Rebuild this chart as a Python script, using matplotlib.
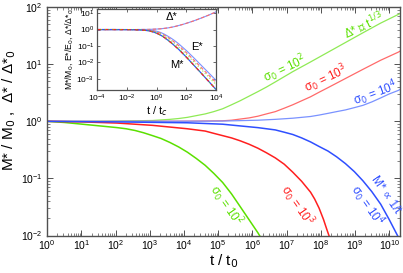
import numpy as np
import matplotlib
matplotlib.use("Agg")
import matplotlib.pyplot as plt
from matplotlib.ticker import LogLocator, NullFormatter

plt.rcParams['font.family'] = ['Liberation Sans', 'DejaVu Sans']
plt.rcParams['mathtext.fontset'] = 'dejavusans'

# main panel: log10(t/t0) and log10 of curve values
lt_up_g = [0, 1.03, 2.05, 3.08, 3.33, 3.59, 3.85, 4.10, 4.36, 4.62, 4.87, 5.13, 5.39, 5.64,
           5.90, 6.16, 6.41, 6.67, 7.18, 7.70, 8.21, 8.72, 9.23, 9.75, 10.26, 10.32]
up_g = [0, 0, 0.005, 0.015, 0.025, 0.035, 0.05, 0.07, 0.10, 0.13, 0.17, 0.22, 0.29, 0.36,
        0.44, 0.52, 0.60, 0.69, 0.87, 1.04, 1.21, 1.38, 1.55, 1.72, 1.87, 1.89]
lt_up_r = [0, 2.05, 4.10, 5.13, 5.39, 5.64, 5.90, 6.16, 6.41, 6.67, 6.93, 7.18, 7.44, 7.70,
           7.95, 8.21, 8.72, 9.23, 9.75, 10.26, 10.32]
up_r = [0, 0, 0.003, 0.01, 0.02, 0.04, 0.06, 0.09, 0.13, 0.17, 0.23, 0.29, 0.36, 0.43,
        0.51, 0.59, 0.75, 0.91, 1.07, 1.21, 1.23]
lt_up_b = [0, 2.05, 4.10, 5.13, 6.16, 6.67, 7.18, 7.70, 7.95, 8.21, 8.46, 8.72, 8.98, 9.23,
           9.49, 9.75, 10.0, 10.26, 10.32]
up_b = [0, 0, 0.002, 0.005, 0.02, 0.035, 0.055, 0.085, 0.11, 0.14, 0.17, 0.20, 0.24, 0.28,
        0.34, 0.41, 0.48, 0.54, 0.56]

lt_lo_g = [0, 0.51, 1.03, 1.54, 2.05, 2.31, 2.57, 2.82, 3.08, 3.33, 3.59, 3.85, 4.10, 4.36,
           4.62, 4.87, 5.13, 5.39, 5.64, 5.90, 6.16, 6.26]
lo_g = [0, -0.02, -0.05, -0.08, -0.11, -0.13, -0.16, -0.20, -0.25, -0.30, -0.37, -0.45, -0.54,
        -0.65, -0.77, -0.91, -1.07, -1.27, -1.49, -1.72, -1.95, -2.05]
lt_lo_r = [0, 1.03, 2.05, 3.08, 4.10, 4.36, 4.62, 4.87, 5.13, 5.39, 5.64, 5.90, 6.16, 6.41,
           6.67, 6.93, 7.18, 7.44, 7.70, 7.82, 7.95, 8.08, 8.18, 8.25]
lo_r = [0, -0.01, -0.03, -0.07, -0.13, -0.15, -0.17, -0.21, -0.25, -0.29, -0.34, -0.40, -0.47,
        -0.55, -0.64, -0.75, -0.89, -1.05, -1.24, -1.36, -1.52, -1.72, -1.90, -2.02]
lt_lo_b = [0, 2.05, 4.10, 5.13, 5.64, 6.16, 6.67, 6.93, 7.18, 7.44, 7.70, 7.95, 8.21, 8.46,
           8.72, 8.98, 9.23, 9.49, 9.75, 10.0, 10.26]
lo_b = [0, -0.01, -0.025, -0.05, -0.08, -0.11, -0.15, -0.19, -0.23, -0.29, -0.36, -0.44, -0.52,
        -0.62, -0.74, -0.88, -1.04, -1.23, -1.45, -1.72, -2.02]

# inset: log10(t/tc) and log10 of M*, E*, Delta*
lt_in = [-4, -3, -2, -1.5, -1.25, -1, -0.75, -0.5, -0.25, 0, 0.25, 0.5, 0.75, 1, 1.25, 1.5,
         1.75, 2, 2.5, 3, 3.5, 4]
in_m = [0, 0, -0.005, -0.01, -0.02, -0.03, -0.05, -0.08, -0.14, -0.22, -0.33, -0.47, -0.64,
        -0.82, -1.02, -1.22, -1.45, -1.68, -2.17, -2.66, -3.16, -3.66]
in_e_b = [0, 0, 0, -0.005, -0.007, -0.01, -0.02, -0.03, -0.06, -0.10, -0.17, -0.27, -0.40,
          -0.54, -0.70, -0.88, -1.08, -1.28, -1.72, -2.18, -2.64, -3.10]
in_e_r = [0, 0, 0, -0.005, -0.008, -0.015, -0.025, -0.04, -0.08, -0.13, -0.21, -0.33, -0.47,
          -0.63, -0.80, -0.99, -1.20, -1.41, -1.86, -2.32, -2.78, -3.24]
in_e_g = [0, 0, 0, -0.005, -0.01, -0.02, -0.03, -0.05, -0.10, -0.16, -0.25, -0.38, -0.53,
          -0.70, -0.88, -1.08, -1.29, -1.51, -1.97, -2.43, -2.90, -3.36]
in_d = [0, 0, 0, 0, 0.002, 0.005, 0.007, 0.01, 0.02, 0.03, 0.045, 0.07, 0.10, 0.14, 0.19,
        0.25, 0.31, 0.38, 0.53, 0.70, 0.88, 1.08]

green_dk, red_dk, blue_dk = '#5be000', '#ff1f1f', '#2f4fff'
green_lt, red_lt, blue_lt = '#8fea55', '#ff6a6a', '#7a92ff'
axc = '#505050'


def p(a):
    return 10.0 ** np.array(a)


fig = plt.figure(figsize=(4.03, 2.73), dpi=100)
ax = fig.add_axes([0.117, 0.137, 0.876, 0.837])

ax.plot(p(lt_up_g), p(up_g), color=green_lt, lw=0.9)
ax.plot(p(lt_up_r), p(up_r), color=red_lt, lw=0.9)
ax.plot(p(lt_up_b), p(up_b), color=blue_lt, lw=0.9)
ax.plot(p(lt_lo_g), p(lo_g), color=green_dk, lw=1.1)
ax.plot(p(lt_lo_r), p(lo_r), color=red_dk, lw=1.1)
ax.plot(p(lt_lo_b), p(lo_b), color=blue_dk, lw=1.1)

ax.set_xscale('log')
ax.set_yscale('log')
ax.set_xlim(1, 10 ** 10.32)
ax.set_ylim(1e-2, 1e2)
ax.xaxis.set_major_locator(LogLocator(base=10, numticks=12))
ax.xaxis.set_minor_locator(LogLocator(base=10, subs=np.arange(2, 10), numticks=12))
ax.xaxis.set_minor_formatter(NullFormatter())
ax.tick_params(which='both', direction='in', top=True, right=True, colors=axc, labelcolor='black')
ax.tick_params(which='major', length=4, width=0.7, labelsize=7.5)
ax.tick_params(which='minor', length=2, width=0.5)
ax.tick_params(axis='x', pad=2)
for s in ax.spines.values():
    s.set_color(axc)
    s.set_linewidth(1.0)
ax.set_xlabel('t / t$_0$', fontsize=11, labelpad=0)
ax.set_ylabel('M* / M$_0$ ,  Δ* / Δ*$_0$', fontsize=11, labelpad=2)
ax.yaxis.set_label_coords(-0.083, 0.55)

fs = 8.5
ax.text(10 ** 6.94, 10 ** 0.92, 'σ$_0$ = 10$^2$', color=green_dk, fontsize=fs, rotation=25, ha='center', va='center')
ax.text(10 ** 9.25, 10 ** 1.69, 'Δ* ∝ t$^{1/3}$', color=green_dk, fontsize=fs, rotation=25, ha='center', va='center')
ax.text(10 ** 8.16, 10 ** 0.75, 'σ$_0$ = 10$^3$', color=red_dk, fontsize=fs, rotation=25, ha='center', va='center')
ax.text(10 ** 9.59, 10 ** 0.49, 'σ$_0$ = 10$^4$', color=blue_dk, fontsize=fs, rotation=20, ha='center', va='center')
ax.text(10 ** 5.22, 10 ** -1.47, 'σ$_0$ = 10$^2$', color=green_dk, fontsize=fs, rotation=-55, ha='center', va='center')
ax.text(10 ** 7.30, 10 ** -1.47, 'σ$_0$ = 10$^3$', color=red_dk, fontsize=fs, rotation=-55, ha='center', va='center')
ax.text(10 ** 9.90, 10 ** -1.29, 'M* ∝ 1/t', color=blue_dk, fontsize=fs, rotation=-55, ha='center', va='center')
ax.text(10 ** 9.36, 10 ** -1.47, 'σ$_0$ = 10$^4$', color=blue_dk, fontsize=fs, rotation=-55, ha='center', va='center')

# inset
ins = fig.add_axes([0.241, 0.670, 0.295, 0.297])
ins.plot(p(lt_in), p(in_d), color=blue_lt, lw=0.8)
ins.plot(p(lt_in), p(in_d), color=red_lt, lw=0.8, ls=(0, (3, 2)))
ins.plot(p(lt_in), p(in_e_b), color=blue_lt, lw=0.8)
ins.plot(p(lt_in), p(in_e_r), color=red_lt, lw=0.8, ls=(0, (3, 2)))
ins.plot(p(lt_in), p(in_e_g), color=green_lt, lw=0.8, ls=(0, (1, 2)))
ins.plot(p(lt_in), p(in_m), color=blue_dk, lw=0.9)
ins.plot(p(lt_in), p(in_m), color=red_dk, lw=0.9, ls=(0, (3, 3)))
ins.plot(p(lt_in), p(in_m), color=green_dk, lw=0.7, ls=(0, (1, 3)))
ins.set_xscale('log')
ins.set_yscale('log')
ins.set_xlim(1e-4, 1e4)
ins.set_ylim(2e-4, 1.8e1)
ins.set_xticks([1e-4, 1e-2, 1, 1e2, 1e4])
ins.xaxis.set_minor_formatter(NullFormatter())
ins.set_yticks([1e-3, 1e-2, 1e-1, 1, 10])
ins.yaxis.set_minor_formatter(NullFormatter())
ins.tick_params(which='both', direction='in', top=True, right=True, colors=axc, labelcolor='black')
ins.tick_params(which='major', length=2.5, width=0.6, labelsize=6, pad=2)
ins.tick_params(which='minor', length=0)
for s in ins.spines.values():
    s.set_color(axc)
    s.set_linewidth(0.9)
ins.set_xlabel('t / t$_c$', fontsize=8, labelpad=0)
ins.set_ylabel('M*/M$_0$, E*/E$_0$, Δ*/Δ*$_0$', fontsize=6.2, labelpad=1)
ins.text(10, 5.5, 'Δ*', fontsize=8, ha='center', va='center')
ins.text(500, 0.085, 'E*', fontsize=8, ha='center', va='center')
ins.text(23, 0.0066, 'M*', fontsize=8, ha='center', va='center')

fig.savefig('out.png', dpi=100)
